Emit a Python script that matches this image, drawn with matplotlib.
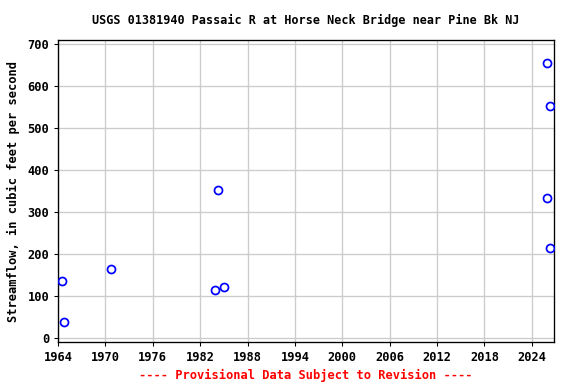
import matplotlib
matplotlib.use("Agg")
import matplotlib.pyplot as plt

# measurement dates (decimal years) and streamflow, cfs
years = [1964.5, 1964.75, 1970.7, 1984.3, 1983.9, 1985.0, 2025.9, 2026.3, 2025.9, 2026.3]
flows = [136, 38, 164, 353, 114, 121, 655, 553, 334, 214]

xticks = list(range(1964, 2025, 6))
yticks = list(range(0, 701, 100))

plt.rcParams["font.family"] = "DejaVu Sans Mono"
plt.rcParams["font.weight"] = "bold"

fig = plt.figure(figsize=(6, 4), dpi=96)
ax = fig.add_axes([0.1007, 0.1094, 0.8611, 0.7864])

ax.plot(years, flows, "o", mfc="none", mec="#0000ff", mew=1.3, ms=6, zorder=3)

ax.set_xlim(1964, 2026.8)
ax.set_ylim(-9, 710)
ax.set_xticks(xticks)
ax.set_yticks(yticks)
ax.grid(True, color="#cccccc", lw=1)
ax.set_axisbelow(True)
ax.tick_params(labelsize=9, length=3)
for s in ax.spines.values():
    s.set_linewidth(1)

ax.set_title("USGS 01381940 Passaic R at Horse Neck Bridge near Pine Bk NJ",
             fontsize=8.8, fontweight="bold", pad=12)
ax.set_ylabel("Streamflow, in cubic feet per second", fontsize=9, fontweight="bold",
              labelpad=6)

# footer centred under the plot area
fig.text(306 / 576, 1 - 375 / 384, "---- Provisional Data Subject to Revision ----",
         color="red", ha="center", va="center", fontsize=9, fontweight="bold")

fig.savefig("out.png", dpi=96)
